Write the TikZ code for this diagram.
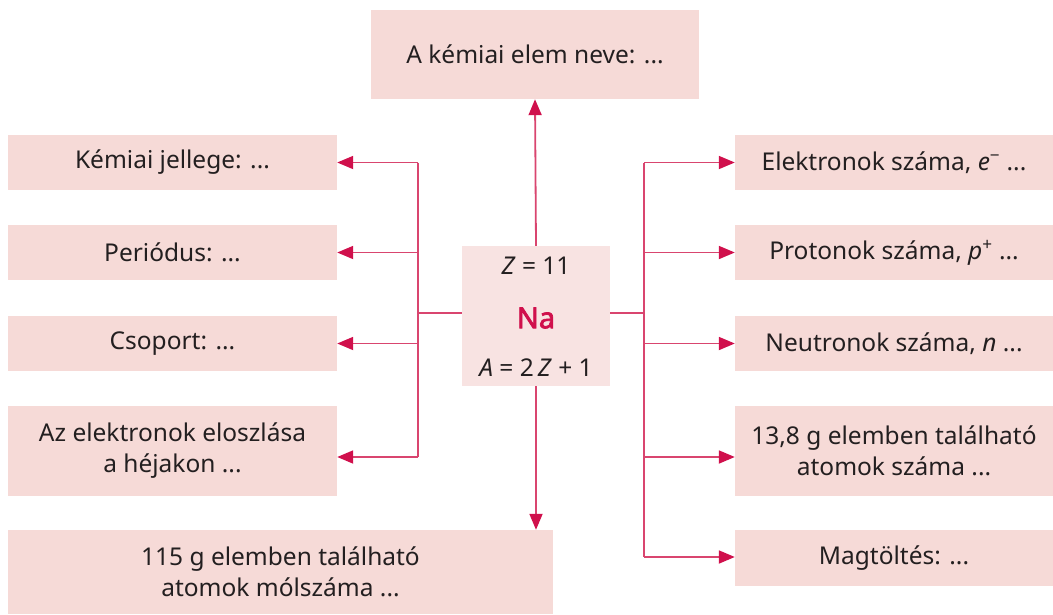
\documentclass[tikz,border=0pt]{standalone}
\usepackage{fontspec}
\setmainfont{Noto Sans}
\newfontfamily\nafont{Noto Sans}[FakeBold=2.5]
\usetikzlibrary{arrows.meta}
\definecolor{boxfill}{HTML}{F6DAD7}
\definecolor{centerfill}{HTML}{F8E3E2}
\definecolor{linecol}{HTML}{D9456F}
\definecolor{arrowcol}{HTML}{D0104C}
\definecolor{txt}{HTML}{231F20}
\begin{document}
\begin{tikzpicture}[x=1pt,y=-1pt,
  box/.style={fill=boxfill,draw=none,inner sep=0pt,align=center,text=txt,font=\fontsize{24.5}{31}\selectfont},
  conn/.style={draw=linecol,line width=1.8pt},
  arr/.style={conn,-{Triangle[length=16pt,width=13pt,fill=arrowcol,color=arrowcol]}}
]
\useasboundingbox (0,0) rectangle (1053,614);
% boxes
\node[box,minimum width=328pt,minimum height=89pt] (top) at (535,54.5) {A kémiai elem neve: ...};
\node[box,minimum width=329pt,minimum height=55pt] (l1) at (172.5,162.5) {Kémiai jellege: ...};
\node[box,minimum width=329pt,minimum height=55pt] (l2) at (172.5,252.5) {Periódus: ...};
\node[box,minimum width=329pt,minimum height=55pt] (l3) at (172.5,343.5) {Csoport: ...};
\node[box,minimum width=329pt,minimum height=90pt] (l4) at (172.5,451) {Az elektronok eloszlása\\a héjakon ...};
\node[box,minimum width=545pt,minimum height=84pt] (bot) at (280.5,572) {115 g elemben található\\atomok mólszáma ...};
\node[box,minimum width=318pt,minimum height=55pt] (r1) at (894,162.5) {Elektronok száma, \textit{e}\textsuperscript{\char"2212} ...};
\node[box,minimum width=318pt,minimum height=55pt] (r2) at (894,252.5) {Protonok száma, \textit{p}\textsuperscript{+} ...};
\node[box,minimum width=318pt,minimum height=55pt] (r3) at (894,343.5) {Neutronok száma, \textit{n} ...};
\node[box,minimum width=318pt,minimum height=90pt] (r4) at (894,451) {13,8 g elemben található\\atomok száma ...};
\node[box,minimum width=318pt,minimum height=56pt] (r5) at (894,558) {Magtöltés: ...};
\node[box,fill=centerfill,minimum width=148pt,minimum height=140pt] (c) at (536,316) {};
\node[text=txt,font=\fontsize{24.5}{28}\selectfont] (cz) at (536,266) {\textit{Z} = 11};
\node[text=arrowcol,font=\fontsize{29}{30}\selectfont\nafont] (cna) at (536,318) {Na};
\node[text=txt,font=\fontsize{24.5}{28}\selectfont] (ca) at (536,368) {\textit{A} = 2\,\textit{Z} + 1};
% trunk coordinates
\coordinate (lj) at (418,313);
\coordinate (rj) at (644,313);
\coordinate (lt) at (418,162.5);
\coordinate (lb) at (418,457);
\coordinate (rt) at (644,162.5);
\coordinate (rb) at (644,557);
% connectors
\draw[conn] (c.west |- lj) -- (lj);
\draw[conn] (c.east |- rj) -- (rj);
\draw[conn] (lt) -- (lb);
\draw[conn] (rt) -- (rb);
\draw[arr] (lt) -- (l1.east);
\draw[arr] (lt |- l2.east) -- (l2.east);
\draw[arr] (lt |- l3.east) -- (l3.east);
\draw[arr] (lb) -- (l4.east |- lb);
\draw[arr] (rt) -- (r1.west);
\draw[arr] (rt |- r2.west) -- (r2.west);
\draw[arr] (rt |- r3.west) -- (r3.west);
\draw[arr] (rt |- 0,457) -- (r4.west |- 0,457);
\draw[arr] (rb) -- (r5.west |- rb);
\draw[arr] (c.north) -- (top.south);
\draw[arr] (c.south) -- (c.south |- bot.north);
\end{tikzpicture}
\end{document}
